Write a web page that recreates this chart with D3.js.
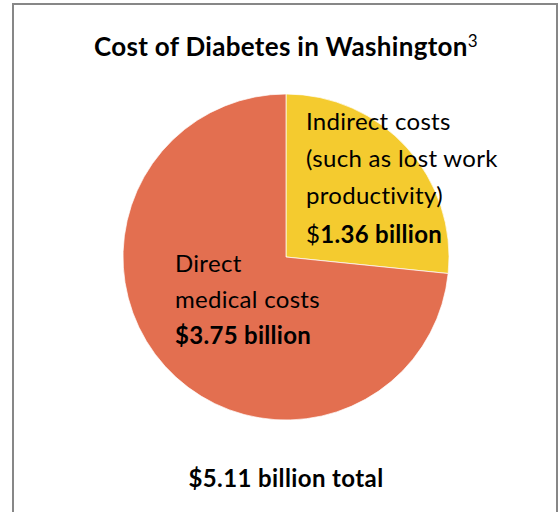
<!DOCTYPE html>
<html>
<head>
<meta charset="utf-8">
<script src="https://cdn.jsdelivr.net/npm/d3@7"></script>
<style>
  body { margin: 0; background: #fff; }
  svg { display: block; font-family: Lato, "Open Sans", sans-serif; }
</style>
</head>
<body>
<div id="chart"></div>
<script>
// data
var categories = ['Indirect costs', 'Direct medical costs'];
var values = [1.36, 3.75];
var colors = ['#F4CB2F', '#E36F50'];
var labelLines = [
    [['Indirect costs'], ['(such as lost work'], ['productivity)'], ['$', '1.36 billion']],
    [['Direct'], ['medical costs'], ['$3.75 billion']]
];
var totalLabel = '$5.11 billion total';

var width = 559, height = 512;
var cx = 286, cy = 257, r = 163;

var svg = d3.select('#chart').append('svg')
    .attr('width', width)
    .attr('height', height);

// frame
svg.append('rect')
    .attr('x', 13).attr('y', 4)
    .attr('width', 544).attr('height', 530)
    .attr('fill', '#fff')
    .attr('stroke', '#878787')
    .attr('stroke-width', 2);

// title
var title = svg.append('text')
    .attr('x', 286).attr('y', 56)
    .attr('text-anchor', 'middle')
    .style('font-size', '26px')
    .style('letter-spacing', '0.3px')
    .style('font-weight', 'bold')
    .attr('fill', '#000');
title.append('tspan').text('Cost of Diabetes in Washington');
title.append('tspan')
    .attr('dy', -9)
    .style('font-size', '17px')
    .style('font-weight', 'normal')
    .text('3');

var pie = d3.pie().sort(null).value(function(d) { return d; });
var arc = d3.arc().innerRadius(0).outerRadius(r);

var g = svg.append('g').attr('transform', 'translate(' + cx + ',' + cy + ')');

g.selectAll('path')
    .data(pie(values))
    .enter()
    .append('path')
    .attr('d', arc)
    .attr('fill', function(d, i) { return colors[i]; })
    .attr('stroke', '#fff')
    .attr('stroke-width', 0.7);

// labels (offsets from pie centre)
var labelPos = [[20, -127], [-111, 15]];
var lineGaps = [[0, 36.5, 37, 39], [0, 35.5, 36]];

labelLines.forEach(function(lines, i) {
    var t = g.append('text')
        .attr('x', labelPos[i][0])
        .attr('y', labelPos[i][1])
        .style('font-size', '24px')
        .style('letter-spacing', '0.3px')
        .attr('fill', '#000');
    lines.forEach(function(parts, j) {
        parts.forEach(function(p, k) {
            var span = t.append('tspan').text(p);
            if (k === 0) span.attr('x', labelPos[i][0]).attr('dy', lineGaps[i][j]);
            var bold = (j === lines.length - 1) && (parts.length === 1 || k > 0);
            if (bold) span.style('font-weight', 'bold');
        });
    });
});

svg.append('text')
    .attr('x', 286).attr('y', 487)
    .attr('text-anchor', 'middle')
    .style('font-size', '24px')
    .style('letter-spacing', '0.4px')
    .style('font-weight', 'bold')
    .text(totalLabel);
</script>
</body>
</html>
